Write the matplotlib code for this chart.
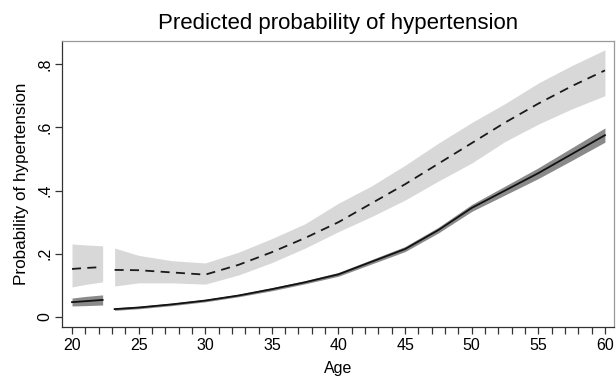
import matplotlib
matplotlib.use("Agg")
import matplotlib.pyplot as plt
from matplotlib.ticker import MultipleLocator

plt.rcParams['font.family'] = ['Liberation Sans', 'DejaVu Sans']

# first age segment (20 to about 22)
age_a = [20, 21, 22.3]
high_a = [0.152, 0.155, 0.158]
high_lo_a = [0.095, 0.103, 0.111]
high_hi_a = [0.231, 0.228, 0.225]
low_a = [0.047, 0.050, 0.054]
low_lo_a = [0.035, 0.036, 0.038]
low_hi_a = [0.060, 0.065, 0.070]

# second age segment (about 23 to 60)
age_b = [23.2, 25, 27.5, 30, 32.5, 35, 37.5, 40, 42.5, 45, 47.5, 50, 52.5, 55, 57.5, 60]
high_b = [0.149, 0.148, 0.141, 0.134, 0.165, 0.205, 0.25, 0.30, 0.36, 0.42,
          0.485, 0.55, 0.615, 0.675, 0.73, 0.78]
high_lo_b = [0.098, 0.108, 0.108, 0.104, 0.133, 0.172, 0.218, 0.27, 0.318, 0.37,
             0.43, 0.487, 0.555, 0.61, 0.658, 0.70]
high_hi_b = [0.218, 0.195, 0.178, 0.171, 0.205, 0.248, 0.295, 0.36, 0.415, 0.48,
             0.55, 0.615, 0.675, 0.74, 0.795, 0.845]
low_b = [0.025, 0.030, 0.040, 0.052, 0.068, 0.088, 0.110, 0.135, 0.175, 0.215,
         0.275, 0.345, 0.400, 0.455, 0.515, 0.575]
low_lo_b = [0.021, 0.026, 0.036, 0.048, 0.064, 0.083, 0.105, 0.129, 0.168, 0.207,
            0.266, 0.334, 0.386, 0.438, 0.495, 0.553]
low_hi_b = [0.029, 0.034, 0.044, 0.056, 0.072, 0.093, 0.115, 0.141, 0.182, 0.223,
            0.284, 0.356, 0.414, 0.472, 0.535, 0.598]

yticks = [0, 0.2, 0.4, 0.6, 0.8]
ytick_labels = ['0', '.2', '.4', '.6', '.8']

fig = plt.figure(figsize=(6.16, 3.77), dpi=100)
ax = fig.add_axes([62 / 616, 50 / 377, 552 / 616, 286 / 377])

for age, lo, hi, mid in [(age_a, high_lo_a, high_hi_a, high_a),
                         (age_b, high_lo_b, high_hi_b, high_b)]:
    ax.fill_between(age, lo, hi, color='#d8d8d8', lw=0)
    ax.plot(age, mid, color='#1a1a1a', lw=1.3, ls=(0, (5, 3.5)))

for age, lo, hi, mid in [(age_a, low_lo_a, low_hi_a, low_a),
                         (age_b, low_lo_b, low_hi_b, low_b)]:
    ax.fill_between(age, lo, hi, color='#8a8a8a', lw=0)
    ax.plot(age, mid, color='#111111', lw=1.3)

ax.set_xlim(19.25, 60.68)
ax.set_ylim(-0.0316, 0.873)
ax.set_xticks(range(20, 61, 5))
ax.xaxis.set_minor_locator(MultipleLocator(1))
ax.set_yticks(yticks)
ax.set_yticklabels(ytick_labels, rotation=90, va='center')

ax.tick_params(axis='both', which='both', direction='out', length=5,
               width=0.9, color='#333333', labelsize=11.5)
ax.tick_params(axis='x', pad=3)
ax.tick_params(axis='y', pad=2)

for side in ['top', 'right']:
    ax.spines[side].set_color('#9a9a9a')
for side in ['left', 'bottom']:
    ax.spines[side].set_color('#333333')
for sp in ax.spines.values():
    sp.set_linewidth(0.9)

ax.set_title('Predicted probability of hypertension', fontsize=16, pad=9)
ax.set_xlabel('Age', fontsize=11.5, labelpad=6)
ax.set_ylabel('Probability of hypertension', fontsize=12.3, labelpad=6)

fig.savefig('out.png', dpi=100)
